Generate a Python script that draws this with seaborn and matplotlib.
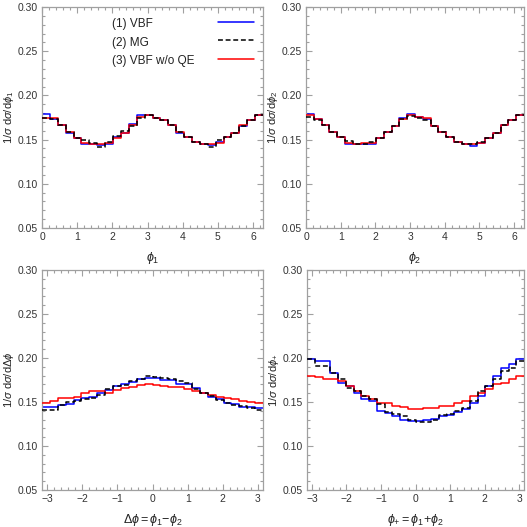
import numpy as np
import pandas as pd
import seaborn as sns
import matplotlib.pyplot as plt
from matplotlib.ticker import MultipleLocator

# 28 bins per histogram
n_bins = 28
series = ['(1) VBF', '(2) MG', '(3) VBF w/o QE']

phi1_vbf = [0.1786, 0.1737, 0.167, 0.158, 0.152, 0.1447, 0.1445, 0.144, 0.1455, 0.153, 0.158, 0.168, 0.178, 0.1775,
            0.174, 0.1726, 0.167, 0.158, 0.153, 0.147, 0.1447, 0.144, 0.147, 0.153, 0.1575, 0.165, 0.1726, 0.178]
phi1_mg = [0.1744, 0.1737, 0.167, 0.1586, 0.152, 0.149, 0.146, 0.1417, 0.1474, 0.1545, 0.1595, 0.1655, 0.175, 0.1775,
           0.174, 0.1726, 0.167, 0.1586, 0.153, 0.147, 0.1447, 0.1417, 0.150, 0.153, 0.1575, 0.165, 0.1726, 0.1775]
phi1_noqe = [0.175, 0.174, 0.166, 0.159, 0.152, 0.146, 0.1455, 0.1455, 0.146, 0.152, 0.157, 0.1665, 0.1758, 0.1775,
             0.174, 0.1726, 0.167, 0.159, 0.153, 0.147, 0.1447, 0.1455, 0.1465, 0.153, 0.1575, 0.166, 0.1726, 0.1778]

phi2_vbf = [0.1786, 0.1737, 0.166, 0.1586, 0.153, 0.1447, 0.1447, 0.1447, 0.1455, 0.152, 0.1586, 0.165, 0.1745, 0.179,
            0.176, 0.1737, 0.165, 0.1586, 0.153, 0.147, 0.1455, 0.143, 0.146, 0.152, 0.1575, 0.166, 0.1726, 0.178]
phi2_mg = [0.1756, 0.172, 0.166, 0.1586, 0.153, 0.148, 0.1447, 0.1447, 0.1474, 0.152, 0.1586, 0.165, 0.1737, 0.1767,
           0.1745, 0.1725, 0.165, 0.1586, 0.153, 0.147, 0.1455, 0.1447, 0.1474, 0.152, 0.1575, 0.166, 0.1726, 0.1775]
phi2_noqe = [0.1775, 0.1737, 0.166, 0.1586, 0.1535, 0.146, 0.1447, 0.146, 0.1465, 0.152, 0.1586, 0.165, 0.1737, 0.1775,
             0.176, 0.1745, 0.165, 0.1586, 0.153, 0.147, 0.1455, 0.1455, 0.1465, 0.152, 0.1575, 0.166, 0.1726, 0.178]

dphi_vbf = [0.1447, 0.1447, 0.1466, 0.148, 0.152, 0.154, 0.156, 0.16, 0.1636, 0.168, 0.171, 0.173, 0.1758, 0.1777,
            0.177, 0.175, 0.175, 0.171, 0.171, 0.1655, 0.16, 0.156, 0.153, 0.149, 0.148, 0.1447, 0.1447, 0.1436]
dphi_mg = [0.141, 0.141, 0.1466, 0.1505, 0.151, 0.153, 0.155, 0.158, 0.1644, 0.168, 0.169, 0.1735, 0.1758, 0.179,
           0.178, 0.1768, 0.176, 0.174, 0.1718, 0.1644, 0.1606, 0.1568, 0.1525, 0.1485, 0.1466, 0.1455, 0.143, 0.141]
dphi_noqe = [0.149, 0.1515, 0.154, 0.154, 0.156, 0.16, 0.162, 0.163, 0.16, 0.1636, 0.1655, 0.1674, 0.169, 0.171,
             0.169, 0.168, 0.1674, 0.1667, 0.1644, 0.162, 0.16, 0.158, 0.156, 0.154, 0.153, 0.1515, 0.1505, 0.149]

dplus_vbf = [0.199, 0.1966, 0.1966, 0.1833, 0.172, 0.168, 0.1606, 0.1538, 0.151, 0.1398, 0.1371, 0.134, 0.1295, 0.1284,
             0.1284, 0.1295, 0.131, 0.134, 0.1348, 0.1386, 0.1417, 0.149, 0.157, 0.168, 0.1795, 0.189, 0.1928, 0.1985]
dplus_mg = [0.1985, 0.191, 0.1905, 0.1833, 0.1765, 0.166, 0.163, 0.157, 0.153, 0.1473, 0.1386, 0.136, 0.134, 0.130,
            0.1273, 0.1276, 0.130, 0.1348, 0.136, 0.1398, 0.1436, 0.151, 0.1625, 0.168, 0.1758, 0.185, 0.189, 0.1966]
dplus_noqe = [0.180, 0.1788, 0.1765, 0.1758, 0.1739, 0.168, 0.1625, 0.157, 0.153, 0.149, 0.1485, 0.146, 0.1447, 0.1417,
              0.1417, 0.1436, 0.1436, 0.1455, 0.146, 0.149, 0.151, 0.157, 0.16, 0.1644, 0.17, 0.172, 0.1758, 0.1795]

panels = [
    (0, 2 * np.pi, [phi1_vbf, phi1_mg, phi1_noqe], r'$\phi_1$', r'$1/\sigma\ \mathrm{d}\sigma/\mathrm{d}\phi_1$'),
    (0, 2 * np.pi, [phi2_vbf, phi2_mg, phi2_noqe], r'$\phi_2$', r'$1/\sigma\ \mathrm{d}\sigma/\mathrm{d}\phi_2$'),
    (-np.pi, np.pi, [dphi_vbf, dphi_mg, dphi_noqe], r'$\Delta\phi\mathrm{=}\phi_1\mathrm{-}\phi_2$',
     r'$1/\sigma\ \mathrm{d}\sigma/\mathrm{d}\Delta\phi$'),
    (-np.pi, np.pi, [dplus_vbf, dplus_mg, dplus_noqe], r'$\phi_{+}\mathrm{=}\phi_1\mathrm{+}\phi_2$',
     r'$1/\sigma\ \mathrm{d}\sigma/\mathrm{d}\phi_{+}$'),
]

colors = {'(1) VBF': '#0000ff', '(2) MG': 'black', '(3) VBF w/o QE': '#ff0000'}
zorders = {'(1) VBF': 2, '(2) MG': 4, '(3) VBF w/o QE': 3}

sns.set_style('ticks')
plt.rcParams['font.family'] = ['Liberation Sans', 'DejaVu Sans']
plt.rcParams['mathtext.fontset'] = 'custom'
plt.rcParams['mathtext.rm'] = 'Liberation Sans'
plt.rcParams['mathtext.it'] = 'Liberation Sans:italic'
plt.rcParams['mathtext.fallback'] = 'stixsans'
plt.rcParams['axes.edgecolor'] = '#a0a0a0'
plt.rcParams['xtick.color'] = '#a0a0a0'
plt.rcParams['ytick.color'] = '#a0a0a0'
plt.rcParams['xtick.labelcolor'] = '#333333'
plt.rcParams['ytick.labelcolor'] = '#333333'

fig = plt.figure(figsize=(5.27, 5.27), dpi=100)
W, H = 527.0, 527.0
boxes = [(42, 7, 263, 228), (306, 7, 524, 228), (42, 270, 263, 490), (307, 270, 524, 490)]

for (x0, x1, data, xlabel, ylabel), (l, t, r, b) in zip(panels, boxes):
    ax = fig.add_axes([l / W, 1 - b / H, (r - l) / W, (b - t) / H])
    edges = np.linspace(x0, x1, n_bins + 1)
    centers = 0.5 * (edges[:-1] + edges[1:])
    rows = []
    for name, vals in zip(series, data):
        for c, v in zip(centers, vals):
            rows.append({'x': c, 'y': v, 'series': name})
    df = pd.DataFrame(rows)
    for name in ['(1) VBF', '(3) VBF w/o QE', '(2) MG']:
        sub = df[df['series'] == name]
        kw = dict(linestyle=(0, (3.2, 1.8))) if name == '(2) MG' else {}
        sns.histplot(data=sub, x='x', weights='y', bins=n_bins, binrange=(x0, x1), element='step', fill=False,
                     color=colors[name], linewidth=1.1, zorder=zorders[name], ax=ax, label=name, **kw)
    ax.set_xlim(x0, x1)
    ax.set_ylim(0.05, 0.30)
    ax.yaxis.set_major_locator(MultipleLocator(0.05))
    ax.yaxis.set_minor_locator(MultipleLocator(0.01))
    ax.xaxis.set_major_locator(MultipleLocator(1))
    ax.xaxis.set_minor_locator(MultipleLocator(0.2))
    ax.yaxis.set_major_formatter(plt.FormatStrFormatter('%.2f'))
    ax.tick_params(which='both', direction='in', top=True, right=True, labelsize=7.5, width=0.8, pad=3)
    ax.tick_params(which='major', length=4)
    ax.tick_params(which='minor', length=2)
    for s in ax.spines.values():
        s.set_linewidth(0.9)
    ax.set_xlabel(xlabel, fontsize=9, color='#222222', labelpad=6)
    ax.set_ylabel(ylabel, fontsize=8, color='#222222')
    ax.yaxis.set_label_coords(-26.0 / (r - l), 0.5)
    if x0 < 0:
        ax.set_xticks([-3, -2, -1, 0, 1, 2, 3])
        ax.set_xticklabels(['\u22123', '\u22122', '\u22121', '0', '1', '2', '3'])
    if l == 42 and t == 7:
        handles, labels = ax.get_legend_handles_labels()
        order = [labels.index(s) for s in series]
        # line samples on the right, labels left-aligned as text
        ax.legend([handles[i] for i in order], ['', '', ''],
                  loc='upper right', bbox_to_anchor=(0.96, 0.955), frameon=False,
                  fontsize=8.5, handlelength=3.1, handletextpad=0, borderpad=0,
                  borderaxespad=0, labelspacing=0.55)
        for name, yy in zip(series, [0.922, 0.838, 0.757]):
            ax.text(0.317, yy, name, transform=ax.transAxes, ha='left', va='center',
                    fontsize=8.5, color='#222222')

fig.savefig('out.png', dpi=100)
